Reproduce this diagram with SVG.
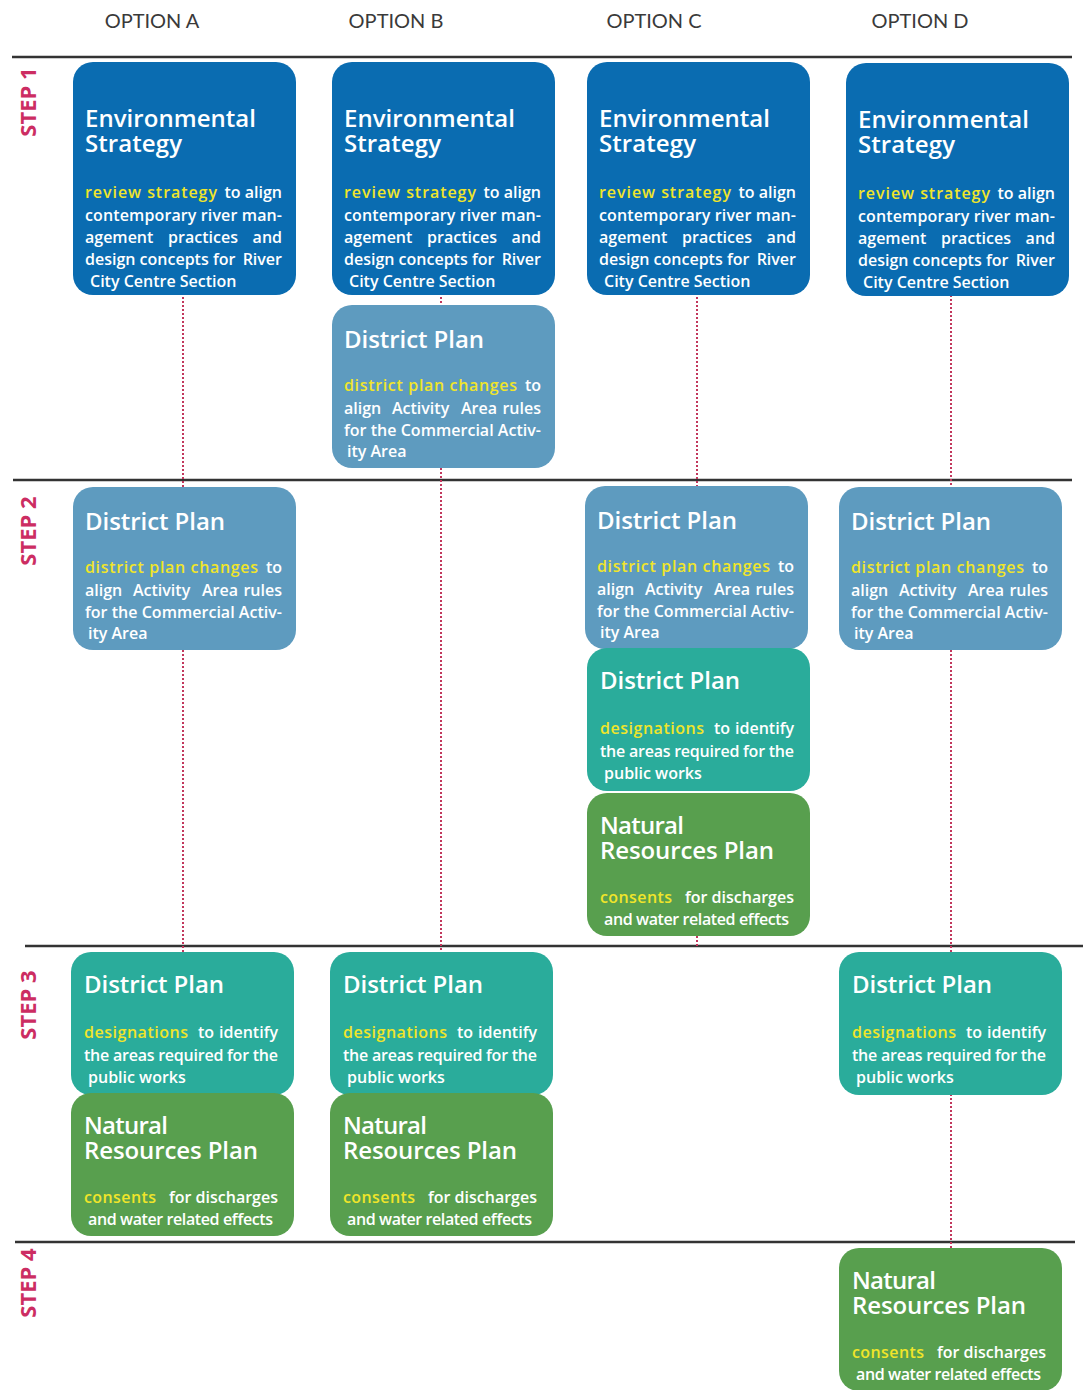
<svg xmlns="http://www.w3.org/2000/svg" width="1083" height="1390" viewBox="0 0 1083 1390">
<style>
.bg{fill:#ffffff}
.opt{font-family:Lato,"Open Sans",sans-serif;font-size:20px;fill:#3a3a3a;text-anchor:middle}
.step{font-family:"Open Sans",Lato,sans-serif;font-size:22px;font-weight:bold;fill:#cc2d62;text-anchor:middle}
.rule{stroke:#333333;stroke-width:2.5}
.conn{stroke:#c2375c;stroke-width:2;stroke-dasharray:2 2;fill:none}
.env{fill:#0a6cb1}
.dpb{fill:#5e9bbf}
.dpt{fill:#2aac9b}
.nrp{fill:#589f4e}
.ttl{font-family:"Open Sans",Lato,sans-serif;font-size:24px;font-weight:600;fill:#ffffff}
.bd{font-family:"Open Sans",Lato,sans-serif;font-size:16px;font-weight:600;fill:#ffffff}
.e{text-anchor:end}
.m{text-anchor:middle}
.hl{fill:#f0e52a}
</style>
<rect class="bg" x="0" y="0" width="1083" height="1390"/>
<g id="headers">
<text class="opt" x="152" y="28">OPTION A</text>
<text class="opt" x="396" y="28">OPTION B</text>
<text class="opt" x="654" y="28">OPTION C</text>
<text class="opt" x="920" y="28">OPTION D</text>
</g>
<g id="steps">
<text class="step" transform="translate(36,102) rotate(-90)">STEP 1</text>
<text class="step" transform="translate(36,531) rotate(-90)">STEP 2</text>
<text class="step" transform="translate(36,1005) rotate(-90)">STEP 3</text>
<text class="step" transform="translate(36,1283) rotate(-90)">STEP 4</text>
</g>
<g id="rules">
<line class="rule" x1="12" y1="57" x2="1072" y2="57"/>
<line class="rule" x1="13" y1="480" x2="1072" y2="480"/>
<line class="rule" x1="25" y1="946" x2="1083" y2="946"/>
<line class="rule" x1="15" y1="1242" x2="1075" y2="1242"/>
</g>
<g id="connectors">
<line class="conn" x1="183" y1="297" x2="183" y2="487"/>
<line class="conn" x1="183" y1="650" x2="183" y2="952"/>
<line class="conn" x1="441" y1="293" x2="441" y2="305"/>
<line class="conn" x1="441" y1="468" x2="441" y2="952"/>
<line class="conn" x1="697" y1="293" x2="697" y2="486"/>
<line class="conn" x1="697" y1="936" x2="697" y2="946"/>
<line class="conn" x1="951" y1="295" x2="951" y2="487"/>
<line class="conn" x1="951" y1="650" x2="951" y2="952"/>
<line class="conn" x1="951" y1="1094" x2="951" y2="1248"/>
</g>
<defs>
<g id="envT">
<rect class="env" x="0" y="0" width="223" height="233" rx="20"/>
<text class="ttl" x="12" y="65" textLength="171" lengthAdjust="spacing">Environmental</text>
<text class="ttl" x="12" y="90" textLength="97" lengthAdjust="spacing">Strategy</text>
<text class="bd hl" x="12" y="136" textLength="132" lengthAdjust="spacing">review strategy</text>
<text class="bd e" x="209" y="136">to align</text>
<text class="bd" x="12" y="158.5" textLength="197" lengthAdjust="spacing">contemporary river man-</text>
<text class="bd" x="12" y="181">agement</text>
<text class="bd m" x="130" y="181">practices</text>
<text class="bd e" x="209" y="181">and</text>
<text class="bd" x="12" y="203">design concepts for</text>
<text class="bd e" x="209" y="203">River</text>
<text class="bd" x="17" y="225">City Centre Section</text>
</g>
<g id="dpbT">
<rect class="dpb" x="0" y="0" width="223" height="163" rx="20"/>
<text class="ttl" x="12" y="43" textLength="140" lengthAdjust="spacing">District Plan</text>
<text class="bd hl" x="12" y="86" textLength="173" lengthAdjust="spacing">district plan changes</text>
<text class="bd e" x="209" y="86">to</text>
<text class="bd" x="12" y="108.5">align</text>
<text class="bd" x="60" y="108.5">Activity</text>
<text class="bd" x="129" y="108.5">Area</text>
<text class="bd e" x="209" y="108.5">rules</text>
<text class="bd" x="12" y="131" textLength="197" lengthAdjust="spacing">for the Commercial Activ-</text>
<text class="bd" x="15" y="151.5">ity Area</text>
</g>
<g id="dptT">
<rect class="dpt" x="0" y="0" width="223" height="143" rx="20"/>
<text class="ttl" x="13" y="41" textLength="140" lengthAdjust="spacing">District Plan</text>
<text class="bd hl" x="13" y="86" textLength="104" lengthAdjust="spacing">designations</text>
<text class="bd" x="127" y="86">to</text>
<text class="bd e" x="207" y="86">identify</text>
<text class="bd" x="13" y="108.5" textLength="194" lengthAdjust="spacing">the areas required for the</text>
<text class="bd" x="17" y="131">public works</text>
</g>
<g id="nrpT">
<rect class="nrp" x="0" y="0" width="223" height="143" rx="20"/>
<text class="ttl" x="13" y="41" textLength="84" lengthAdjust="spacing">Natural</text>
<text class="ttl" x="13" y="66" textLength="174" lengthAdjust="spacing">Resources Plan</text>
<text class="bd hl" x="13" y="110" textLength="72" lengthAdjust="spacing">consents</text>
<text class="bd" x="98" y="110">for</text>
<text class="bd e" x="207" y="110">discharges</text>
<text class="bd" x="17" y="131.5" textLength="185" lengthAdjust="spacing">and water related effects</text>
</g>
</defs>
<g id="env-a" transform="translate(73,62)"><use href="#envT"/></g>
<g id="env-b" transform="translate(332,62)"><use href="#envT"/></g>
<g id="env-c" transform="translate(587,62)"><use href="#envT"/></g>
<g id="env-d" transform="translate(846,63)"><use href="#envT"/></g>
<g id="dp-b1" transform="translate(332,305)"><use href="#dpbT"/></g>
<g id="dp-a2" transform="translate(73,487)"><use href="#dpbT"/></g>
<g id="dp-c2" transform="translate(585,486)"><use href="#dpbT"/></g>
<g id="dp-d2" transform="translate(839,487)"><use href="#dpbT"/></g>
<g id="des-c2" transform="translate(587,648)"><use href="#dptT"/></g>
<g id="nrp-c2" transform="translate(587,793)"><use href="#nrpT"/></g>
<g id="des-a3" transform="translate(71,952)"><use href="#dptT"/></g>
<g id="nrp-a3" transform="translate(71,1093)"><use href="#nrpT"/></g>
<g id="des-b3" transform="translate(330,952)"><use href="#dptT"/></g>
<g id="nrp-b3" transform="translate(330,1093)"><use href="#nrpT"/></g>
<g id="des-d3" transform="translate(839,952)"><use href="#dptT"/></g>
<g id="nrp-d4" transform="translate(839,1248)"><use href="#nrpT"/></g>
</svg>
